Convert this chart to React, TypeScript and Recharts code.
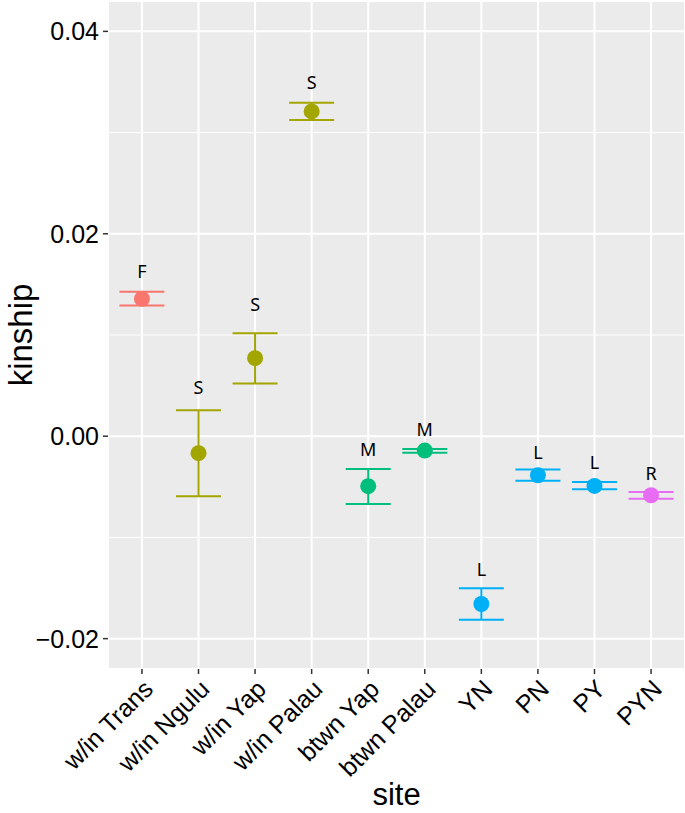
import React from 'react';
import {
  ScatterChart,
  Scatter,
  XAxis,
  YAxis,
  CartesianGrid,
  ErrorBar,
  ReferenceLine,
} from 'recharts';

const sites = ['w/in Trans', 'w/in Ngulu', 'w/in Yap', 'w/in Palau', 'btwn Yap', 'btwn Palau', 'YN', 'PN', 'PY', 'PYN'];
const groups = ['F', 'S', 'S', 'S', 'M', 'M', 'L', 'L', 'L', 'R'];
const kinship = [0.01357, -0.00168, 0.00771, 0.03209, -0.00494, -0.00142, -0.01658, -0.00386, -0.00491, -0.00583];
const upper = [0.01427, 0.00257, 0.01018, 0.03295, -0.00323, -0.00126, -0.01503, -0.0033, -0.00452, -0.00551];
const lower = [0.01291, -0.00593, 0.0052, 0.03124, -0.00669, -0.00163, -0.01813, -0.00439, -0.00524, -0.00617];
const labelPos = [0.01624, 0.00478, 0.013, 0.0349, -0.00129, 0.00062, -0.01322, -0.00165, -0.00261, -0.00366];

const groupNames = ['F', 'S', 'M', 'L', 'R'];
const groupColors: Record<string, string> = {
  F: '#F8766D',
  S: '#A3A500',
  M: '#00BF7D',
  L: '#00B0F6',
  R: '#E76BF3',
};

const yTicks = [-0.02, 0, 0.02, 0.04];
const yMinor = [-0.01, 0.01, 0.03];

const rows = sites.map((site, i) => ({
  x: i + 1,
  site,
  group: groups[i],
  y: kinship[i],
  err: [kinship[i] - lower[i], upper[i] - kinship[i]],
}));

const labelRows = sites.map((site, i) => ({ x: i + 1, y: labelPos[i], group: groups[i] }));

const font = '"Liberation Sans", Arial, Helvetica, sans-serif';

const fmtY = (v: number) => (v < 0 ? '\u2212' + Math.abs(v).toFixed(2) : v.toFixed(2));

function SiteTick(props: any) {
  const { x, y, payload } = props;
  const name = sites[payload.value - 1] ?? '';
  return (
    <g transform={`translate(${x},${y}) rotate(-45)`}>
      <text x={0} y={0} dy="0.71em" textAnchor="end" fontSize={25} fill="#000" fontFamily={font}>
        {name}
      </text>
    </g>
  );
}

export default function App() {
  return (
    <div style={{ position: 'absolute', left: 0, top: 0, background: '#fff' }}>
      <ScatterChart width={685} height={813} margin={{ top: 1, right: 0, bottom: 0, left: 0 }}>
        <CartesianGrid fill="#EBEBEB" stroke="#FFFFFF" strokeWidth={2} />
        {yMinor.map((v) => (
          <ReferenceLine key={v} y={v} stroke="#FFFFFF" strokeWidth={1} />
        ))}
        <XAxis
          type="number"
          dataKey="x"
          domain={[0.4, 10.6]}
          ticks={[1, 2, 3, 4, 5, 6, 7, 8, 9, 10]}
          interval={0}
          height={144}
          axisLine={false}
          tickSize={5}
          tickMargin={4}
          tickLine={{ stroke: '#333333', strokeWidth: 1.5 }}
          tick={<SiteTick />}
          label={{ value: 'site', position: 'insideBottom', offset: 8, style: { fontSize: 31, fill: '#000', fontFamily: font } }}
        />
        <YAxis
          type="number"
          dataKey="y"
          domain={[-0.023, 0.043]}
          allowDataOverflow
          ticks={yTicks}
          tickFormatter={fmtY}
          width={108}
          axisLine={false}
          tickSize={5}
          tickMargin={4}
          tickLine={{ stroke: '#333333', strokeWidth: 1.5 }}
          tick={{ fontSize: 25, fill: '#000', fontFamily: font }}
          label={{
            value: 'kinship',
            angle: -90,
            position: 'insideLeft',
            offset: 20,
            style: { fontSize: 33, fill: '#000', fontFamily: font, textAnchor: 'middle' },
          }}
        />
        {groupNames.map((g) => (
          <Scatter
            key={g}
            data={rows.filter((r) => r.group === g)}
            isAnimationActive={false}
            shape={(p: any) => <circle cx={p.cx} cy={p.cy} r={8} fill={groupColors[g]} />}
          >
            <ErrorBar dataKey="err" direction="y" width={22.5} stroke={groupColors[g]} strokeWidth={2} />
          </Scatter>
        ))}
        <Scatter
          data={labelRows}
          isAnimationActive={false}
          shape={(p: any) => (
            <text
              x={p.cx}
              y={p.cy}
              dy="0.36em"
              textAnchor="middle"
              fontSize={18}
              fill="#000"
              fontFamily='"Noto Sans", sans-serif'
            >
              {p.payload.group}
            </text>
          )}
        />
      </ScatterChart>
    </div>
  );
}
